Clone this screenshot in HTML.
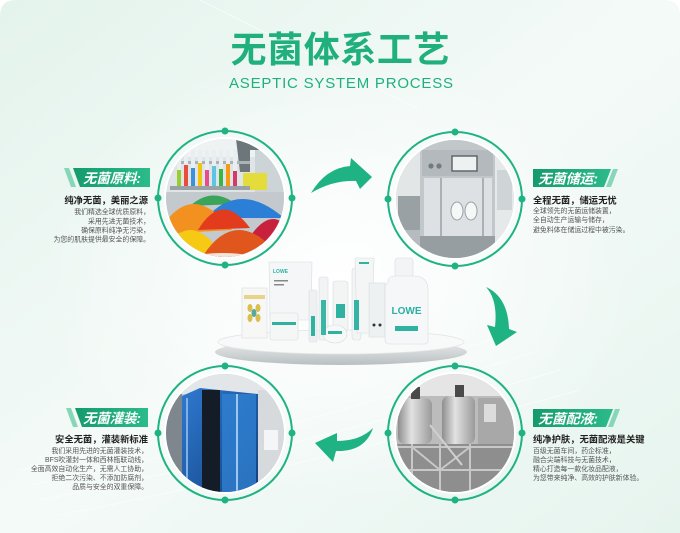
<!DOCTYPE html>
<html><head><meta charset="utf-8">
<style>
html,body{margin:0;padding:0;background:#fff;}
svg{display:block;}
text{font-family:"Liberation Sans","Noto Sans CJK SC",sans-serif;}
</style></head><body>
<svg width="680" height="533" viewBox="0 0 680 533" xmlns="http://www.w3.org/2000/svg">
<defs>
 <linearGradient id="bg" x1="0" y1="0" x2="1" y2="1">
  <stop offset="0" stop-color="#e4f3ec"/>
  <stop offset="0.5" stop-color="#f4faf8"/>
  <stop offset="1" stop-color="#e6f4ee"/>
 </linearGradient>
 <radialGradient id="glow" cx="0.5" cy="0.5" r="0.5">
  <stop offset="0" stop-color="#fff" stop-opacity="0.95"/>
  <stop offset="1" stop-color="#fff" stop-opacity="0"/>
 </radialGradient>
 <linearGradient id="ban" x1="0" y1="0" x2="1" y2="0">
  <stop offset="0" stop-color="#159a6c"/>
  <stop offset="1" stop-color="#2cbb8b"/>
 </linearGradient>
 <linearGradient id="metal" x1="0" y1="0" x2="1" y2="0">
  <stop offset="0" stop-color="#8e8e8e"/>
  <stop offset="0.4" stop-color="#e2e2e2"/>
  <stop offset="1" stop-color="#9a9a9a"/>
 </linearGradient>
 <linearGradient id="rim" x1="0" y1="0" x2="0" y2="1">
  <stop offset="0" stop-color="#eef0f0"/>
  <stop offset="1" stop-color="#b9bfc1"/>
 </linearGradient>
 <linearGradient id="blue" x1="0" y1="0" x2="1" y2="1">
  <stop offset="0" stop-color="#2f7ad0"/>
  <stop offset="1" stop-color="#123f80"/>
 </linearGradient>
 <clipPath id="c1"><circle cx="225" cy="198" r="59"/></clipPath>
 <clipPath id="c2"><circle cx="455" cy="199" r="59"/></clipPath>
 <clipPath id="c3"><circle cx="225" cy="433" r="59"/></clipPath>
 <clipPath id="c4"><circle cx="455" cy="433" r="59"/></clipPath>
</defs>

<!-- background -->
<path d="M0,16 Q0,0 16,0 L664,0 Q680,0 680,16 L680,533 L0,533 Z" fill="url(#bg)"/>
<ellipse cx="340" cy="280" rx="300" ry="230" fill="url(#glow)"/>
<g stroke="#ffffff" stroke-opacity="0.55" stroke-width="1" fill="none">
 <path d="M20,470 Q250,420 520,330"/>
 <path d="M30,485 Q260,440 540,350"/>
 <path d="M40,500 Q270,455 560,370"/>
 <path d="M60,515 Q290,470 580,390"/>
 <path d="M200,0 Q320,60 420,110"/>
</g>

<!-- Title -->
<text x="340" y="62" font-size="36" font-weight="bold" fill="#1fb07e" text-anchor="middle" textLength="219" lengthAdjust="spacing">无菌体系工艺</text>
<text x="341" y="88" font-size="15" fill="#1fb07e" text-anchor="middle" textLength="224" lengthAdjust="spacing">ASEPTIC SYSTEM PROCESS</text>

<!-- Rings -->
<g fill="none" stroke="#1fb384" stroke-width="2">
 <circle cx="225" cy="198" r="67"/>
 <circle cx="455" cy="199" r="67"/>
 <circle cx="225" cy="433" r="67"/>
 <circle cx="455" cy="433" r="67"/>
</g>
<g fill="#ffffff">
 <circle cx="225" cy="198" r="61"/>
 <circle cx="455" cy="199" r="61"/>
 <circle cx="225" cy="433" r="61"/>
 <circle cx="455" cy="433" r="61"/>
</g>

<!-- Photo 1: lab + powders -->
<g clip-path="url(#c1)">
 <rect x="160" y="135" width="130" height="130" fill="#dfe4e6"/>
 <rect x="160" y="135" width="130" height="22" fill="#eff2f3"/>
 <rect x="255" y="148" width="30" height="45" fill="#cdd4d7"/>
 <path d="M236,139 L262,139 L262,150 L250,150 L250,172 L240,172 Z" fill="#6d767b"/>
 <rect x="243" y="173" width="24" height="17" fill="#e4dc3a"/>
 <rect x="170" y="161" width="80" height="3" fill="#a9b2b6"/>
 <g>
  <rect x="177" y="150" width="4" height="38" fill="#e9eef0"/><rect x="177" y="170" width="4" height="18" fill="#9acd32"/>
  <rect x="184" y="150" width="4" height="38" fill="#e9eef0"/><rect x="184" y="165" width="4" height="23" fill="#e84c3d"/>
  <rect x="191" y="150" width="4" height="38" fill="#e9eef0"/><rect x="191" y="168" width="4" height="20" fill="#3d8fe0"/>
  <rect x="198" y="150" width="4" height="38" fill="#e9eef0"/><rect x="198" y="163" width="4" height="25" fill="#f1c40f"/>
  <rect x="205" y="150" width="4" height="38" fill="#e9eef0"/><rect x="205" y="170" width="4" height="18" fill="#e84c8b"/>
  <rect x="212" y="150" width="4" height="38" fill="#e9eef0"/><rect x="212" y="166" width="4" height="22" fill="#5fc3e4"/>
  <rect x="219" y="150" width="4" height="38" fill="#e9eef0"/><rect x="219" y="169" width="4" height="19" fill="#39b54a"/>
  <rect x="226" y="150" width="4" height="38" fill="#e9eef0"/><rect x="226" y="164" width="4" height="24" fill="#f39c12"/>
  <rect x="233" y="150" width="4" height="38" fill="#e9eef0"/><rect x="233" y="171" width="4" height="17" fill="#d63a6a"/>
 </g>
 <rect x="170" y="186" width="80" height="4" fill="#98a2a7"/>
 <rect x="160" y="192" width="130" height="70" fill="#c3c9cc"/>
 <path d="M190,206 Q212,186 236,204 Z" fill="#3aa55a"/>
 <path d="M206,218 Q240,180 284,218 Z" fill="#2c7fd6"/>
 <path d="M158,234 Q190,176 232,230 Z" fill="#f29020"/>
 <path d="M198,230 Q222,190 250,228 Z" fill="#e23b1d"/>
 <path d="M244,246 Q274,194 296,242 Z" fill="#c8213d"/>
 <path d="M156,262 Q190,198 226,262 Z" fill="#f6c915"/>
 <path d="M198,264 Q236,196 286,264 Z" fill="#e0561c"/>
 <path d="M180,258 Q225,248 262,258 L262,264 L180,264 Z" fill="#f1e6dc"/>
</g>

<!-- Photo 2: storage equipment -->
<g clip-path="url(#c2)">
 <rect x="390" y="135" width="130" height="130" fill="#cdd1d3"/>
 <rect x="394" y="138" width="28" height="125" fill="#e3e6e7"/>
 <rect x="398" y="196" width="22" height="34" fill="#9aa1a5"/>
 <rect x="400" y="230" width="20" height="30" fill="#b5bbbe"/>
 <rect x="420" y="136" width="75" height="126" fill="#c2c7ca"/>
 <rect x="422" y="150" width="71" height="26" fill="#b3b9bc"/>
 <rect x="452" y="156" width="25" height="15" fill="#eef1f2" stroke="#5f686d" stroke-width="1.5"/>
 <circle cx="431" cy="166" r="2.6" fill="#737b80"/>
 <circle cx="439" cy="166" r="2.6" fill="#737b80"/>
 <rect x="424" y="178" width="68" height="58" fill="#dde1e3"/>
 <rect x="440" y="178" width="2" height="58" fill="#aab1b4"/>
 <rect x="482" y="178" width="2" height="58" fill="#aab1b4"/>
 <ellipse cx="457" cy="211" rx="6" ry="9" fill="#f6f7f7" stroke="#99a0a4" stroke-width="1"/>
 <ellipse cx="471" cy="211" rx="6" ry="9" fill="#f6f7f7" stroke="#99a0a4" stroke-width="1"/>
 <rect x="420" y="236" width="75" height="26" fill="#969ea2"/>
 <rect x="495" y="138" width="24" height="125" fill="#e6e9ea"/>
 <rect x="497" y="170" width="15" height="40" fill="#cfd4d6"/>
</g>

<!-- Photo 3: filling machine -->
<g clip-path="url(#c3)">
 <rect x="160" y="370" width="130" height="130" fill="#c6cbcf"/>
 <rect x="160" y="370" width="130" height="24" fill="#e3e6e8"/>
 <rect x="166" y="394" width="16" height="100" fill="#7e878e"/>
 <path d="M182,396 L200,388 L258,394 L258,496 L182,496 Z" fill="url(#blue)"/>
 <rect x="202" y="390" width="18" height="106" fill="#141c28"/>
 <rect x="222" y="394" width="34" height="100" fill="#3283d4" opacity="0.75"/>
 <rect x="236" y="394" width="2" height="100" fill="#9cc7f0"/>
 <rect x="186" y="398" width="2" height="96" fill="#7fb0e8"/>
 <rect x="258" y="390" width="30" height="106" fill="#d6dadd"/>
 <rect x="264" y="430" width="14" height="20" fill="#f4f5f6"/>
</g>

<!-- Photo 4: tanks -->
<g clip-path="url(#c4)">
 <rect x="390" y="370" width="130" height="130" fill="#bcbcbc"/>
 <rect x="390" y="370" width="130" height="26" fill="#e5e5e5"/>
 <rect x="398" y="398" width="34" height="46" rx="7" fill="url(#metal)"/>
 <rect x="442" y="396" width="33" height="48" rx="7" fill="url(#metal)"/>
 <rect x="478" y="398" width="38" height="46" fill="#a8a8a8"/>
 <rect x="484" y="404" width="12" height="18" fill="#dcdcdc"/>
 <rect x="411" y="387" width="9" height="12" fill="#4a4a4a"/>
 <rect x="455" y="385" width="9" height="12" fill="#4a4a4a"/>
 <rect x="390" y="444" width="130" height="56" fill="#8e8e8e"/>
 <g stroke="#c8c8c8" stroke-width="2">
  <line x1="390" y1="447" x2="520" y2="447"/>
  <line x1="390" y1="470" x2="520" y2="470"/>
  <line x1="412" y1="444" x2="412" y2="500"/>
  <line x1="440" y1="444" x2="440" y2="500"/>
  <line x1="470" y1="444" x2="470" y2="500"/>
  <line x1="412" y1="447" x2="440" y2="470"/>
  <line x1="470" y1="447" x2="440" y2="470"/>
 </g>
 <line x1="430" y1="425" x2="462" y2="465" stroke="#d0d0d0" stroke-width="2"/>
</g>

<!-- Ring dots -->
<g fill="#1fb384">
 <circle cx="225" cy="131" r="3.5"/><circle cx="158" cy="198" r="3.5"/><circle cx="292" cy="198" r="3.5"/><circle cx="225" cy="265" r="3.5"/>
 <circle cx="455" cy="132" r="3.5"/><circle cx="388" cy="199" r="3.5"/><circle cx="522" cy="199" r="3.5"/><circle cx="455" cy="266" r="3.5"/>
 <circle cx="225" cy="366" r="3.5"/><circle cx="158" cy="433" r="3.5"/><circle cx="292" cy="433" r="3.5"/><circle cx="225" cy="500" r="3.5"/>
 <circle cx="455" cy="366" r="3.5"/><circle cx="388" cy="433" r="3.5"/><circle cx="522" cy="433" r="3.5"/><circle cx="455" cy="500" r="3.5"/>
</g>

<!-- Arrows -->
<g fill="#1fb384">
 <path d="M311,193 Q326,168 350,166 L351,158 L372,177 L360,189 L356,181 Q333,180 311,193 Z"/>
 <path d="M486,287 Q508,297 509,329 L517,332 L496,346 L487,325 L495,327 Q498,300 486,287 Z"/>
 <path d="M373,428 Q365,452 336,451 L333,462 L315,443 L337,433 L337,441 Q360,441 373,428 Z"/>
</g>

<!-- Platform + products -->
<ellipse cx="341" cy="352" rx="126" ry="13" fill="url(#rim)"/>
<ellipse cx="341" cy="342" rx="123" ry="12" fill="#f8f9f9" stroke="#e1e5e6" stroke-width="0.8"/>
<g stroke="#d8dddf" stroke-width="0.6">
 <path d="M269,262 L312,262 L311,320 L270,320 Z" fill="#f4f6f7"/>
 <rect x="242" y="288" width="25" height="50" fill="#f7f7f5"/>
 <rect x="270" y="313" width="28" height="27" rx="2" fill="#f5f6f6"/>
 <rect x="309" y="290" width="8" height="52" rx="2" fill="#eef1f2"/>
 <rect x="319" y="277" width="9" height="63" rx="2" fill="#f1f3f4"/>
 <rect x="333" y="281" width="15" height="50" rx="3" fill="#f3f5f5"/>
 <ellipse cx="335" cy="334" rx="12" ry="9" fill="#f7f8f8"/>
 <rect x="352" y="268" width="9" height="72" rx="3" fill="#f2f4f5"/>
 <path d="M355,258 L374,258 L372,333 L357,333 Z" fill="#f4f6f6"/>
 <rect x="369" y="283" width="16" height="54" fill="#eef1f2"/>
 <rect x="395" y="258" width="18" height="20" rx="3" fill="#f2f4f5"/>
 <path d="M388,282 Q388,276 395,276 L413,276 Q428,276 428,290 L428,340 Q428,344 424,344 L389,344 Q385,344 385,340 L385,286 Z" fill="#f6f7f8"/>
</g>
<g>
 <text x="273" y="273" font-size="5" fill="#2bb3a3" font-weight="bold">LOWE</text>
 <rect x="274" y="280" width="14" height="1.5" fill="#888"/>
 <rect x="274" y="284" width="10" height="1.5" fill="#888"/>
 <rect x="244" y="295" width="21" height="4" fill="#e6d48a"/>
 <ellipse cx="250" cy="308" rx="2.5" ry="4" fill="#d8bf4e"/>
 <ellipse cx="258" cy="308" rx="2.5" ry="4" fill="#d8bf4e"/>
 <ellipse cx="250" cy="318" rx="2.5" ry="4" fill="#d8bf4e"/>
 <ellipse cx="258" cy="318" rx="2.5" ry="4" fill="#d8bf4e"/>
 <ellipse cx="254" cy="313" rx="2.5" ry="4" fill="#5aa89a"/>
 <rect x="272" y="322" width="24" height="3" fill="#2fb2a0"/>
 <rect x="311" y="316" width="4" height="20" fill="#2fb2a0"/>
 <rect x="321" y="300" width="5" height="35" fill="#3bb6a5"/>
 <rect x="336" y="304" width="9" height="14" fill="#2fb2a0"/>
 <rect x="328" y="331" width="14" height="3" fill="#2fb2a0"/>
 <rect x="354" y="300" width="5" height="30" fill="#36b3a4"/>
 <rect x="359" y="262" width="10" height="2" fill="#2fb2a0"/>
 <circle cx="374" cy="325" r="1.5" fill="#333"/><circle cx="380" cy="325" r="1.5" fill="#333"/>
 <text x="406.5" y="314" font-size="10" font-weight="bold" fill="#2bb0a3" text-anchor="middle">LOWE</text>
 <rect x="395" y="326" width="23" height="5" fill="#2fb2a0"/>
</g>

<!-- Label: top-left -->
<polygon points="64,168 69,168 76,187 71,187" fill="#86d6b8"/>
<polygon points="73,168 150,168 150,187 80,187" fill="url(#ban)"/>
<text x="112" y="183" font-size="13.5" font-weight="bold" font-style="italic" fill="#fff" text-anchor="middle" textLength="58" lengthAdjust="spacingAndGlyphs">无菌原料:</text>
<text x="148" y="203.3" font-size="9.3" font-weight="bold" fill="#222" text-anchor="end">纯净无菌，美丽之源</text>
<g font-size="6.9" fill="#555" text-anchor="end">
 <text x="150" y="214">我们精选全球优质原料，</text>
 <text x="150" y="223.4">采用先进无菌技术，</text>
 <text x="150" y="232.4">确保原料纯净无污染，</text>
 <text x="150" y="241.4">为您的肌肤提供最安全的保障。</text>
</g>

<!-- Label: top-right -->
<polygon points="533,169 611,169 604,187 533,187" fill="url(#ban)"/>
<polygon points="613,169 618,169 611,187 606,187" fill="#86d6b8"/>
<text x="568" y="183.5" font-size="13.5" font-weight="bold" font-style="italic" fill="#fff" text-anchor="middle" textLength="60" lengthAdjust="spacingAndGlyphs">无菌储运:</text>
<text x="533" y="203.3" font-size="9.3" font-weight="bold" fill="#222">全程无菌，储运无忧</text>
<g font-size="6.9" fill="#555">
 <text x="533" y="213">全球领先的无菌运储装置，</text>
 <text x="533" y="222">全自动生产运输与储存，</text>
 <text x="533" y="232">避免料体在储运过程中被污染。</text>
</g>

<!-- Label: bottom-left -->
<polygon points="66,408 71,408 78,427 73,427" fill="#86d6b8"/>
<polygon points="75,408 148,408 148,427 82,427" fill="url(#ban)"/>
<text x="112" y="423" font-size="13.5" font-weight="bold" font-style="italic" fill="#fff" text-anchor="middle" textLength="58" lengthAdjust="spacingAndGlyphs">无菌灌装:</text>
<text x="148" y="442.6" font-size="9.3" font-weight="bold" fill="#222" text-anchor="end">安全无菌，灌装新标准</text>
<g font-size="6.9" fill="#555" text-anchor="end">
 <text x="148" y="453">我们采用先进的无菌灌装技术，</text>
 <text x="148" y="462">BFS吹灌封一体和西林瓶联动线，</text>
 <text x="148" y="471">全面高效自动化生产，无需人工协助，</text>
 <text x="148" y="480">拒绝二次污染、不添加防腐剂，</text>
 <text x="148" y="489">品质与安全的双重保障。</text>
</g>

<!-- Label: bottom-right -->
<polygon points="533,409 613,409 606,427 533,427" fill="url(#ban)"/>
<polygon points="615,409 620,409 613,427 608,427" fill="#86d6b8"/>
<text x="568" y="423.5" font-size="13.5" font-weight="bold" font-style="italic" fill="#fff" text-anchor="middle" textLength="60" lengthAdjust="spacingAndGlyphs">无菌配液:</text>
<text x="533" y="442.6" font-size="9.3" font-weight="bold" fill="#222">纯净护肤，无菌配液是关键</text>
<g font-size="6.9" fill="#555">
 <text x="533" y="453">百级无菌车间，药企标准，</text>
 <text x="533" y="462">融合尖端科技与无菌技术，</text>
 <text x="533" y="471">精心打造每一款化妆品配液，</text>
 <text x="533" y="480">为您带来纯净、高效的护肤新体验。</text>
</g>
</svg>
</body></html>
